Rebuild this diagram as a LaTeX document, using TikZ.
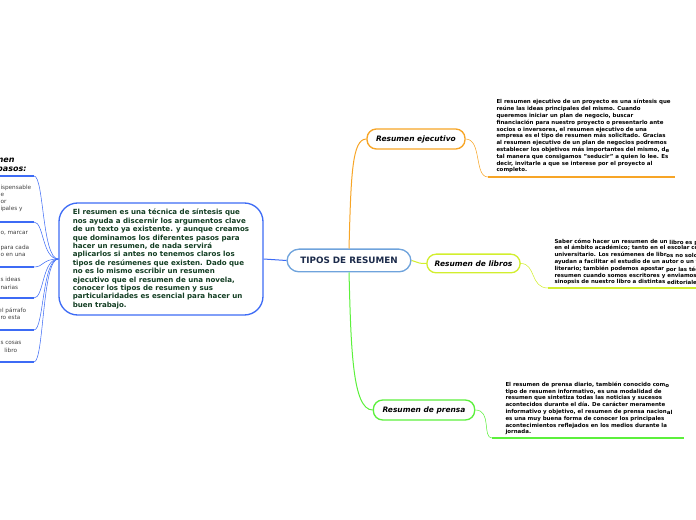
\documentclass[tikz,border=0pt]{standalone}
\usepackage{fontspec}
\setmainfont{DejaVu Sans}
\definecolor{cBlue}{HTML}{3D6BF5}
\definecolor{cNavy}{HTML}{1B2A4A}
\definecolor{cCentral}{HTML}{6FA3DC}
\definecolor{cText}{HTML}{123D22}
\definecolor{cOrange}{HTML}{F7A526}
\definecolor{cLime}{HTML}{D2EE2E}
\definecolor{cGreen}{HTML}{5CF03C}

\tikzset{every picture/.style={line width=0.75pt}}
\tikzset{
  topic/.style={draw, rounded corners=7pt, line width=1pt, fill=white, inner sep=0pt,
    font=\fontsize{5.6}{6.5}\selectfont\bfseries\itshape},
  note/.style={anchor=south west, inner sep=0pt, align=left,
    font=\fontsize{4.1}{5.1}\selectfont\bfseries},
  leftnote/.style={anchor=west, inner sep=0pt, text=black!75,
    font=\fontsize{4.3}{5.1}\selectfont},
  uline/.style={line width=1.6pt},
}

\begin{document}
\begin{tikzpicture}[x=0.75pt,y=0.75pt,yscale=-1]
\useasboundingbox (0,0) rectangle (696,520);

%Central topic
\node [draw=cCentral, rounded corners=9pt, line width=1pt, minimum width=93pt, minimum height=17pt,
  text=cNavy, font=\fontsize{6.6}{7}\selectfont\bfseries] (tipos) at (349,260.5) {TIPOS DE RESUMEN};

%Left text box
\node [draw=cBlue, rounded corners=14pt, line width=1pt, minimum width=153pt, minimum height=84pt,
  text=cText, align=left, font=\fontsize{5.3}{6.3}\selectfont\bfseries] (intro) at (161,259)
  {El resumen es una técnica de síntesis que\\
   nos ayuda a discernir los argumentos clave\\
   de un texto ya existente. y aunque creamos\\
   que dominamos los diferentes pasos para\\
   hacer un resumen, de nada servirá\\
   aplicarlos si antes no tenemos claros los\\
   tipos de resúmenes que existen. Dado que\\
   no es lo mismo escribir un resumen\\
   ejecutivo que el resumen de una novela,\\
   conocer los tipos de resumen y sus\\
   particularidades es esencial para hacer un\\
   buen trabajo.};
\draw [cBlue] (tipos.west) -- (intro.east);

%Topics on the right
\node [topic, draw=cOrange, minimum width=73.5pt, minimum height=15pt] (ejec) at (416,139) {Resumen ejecutivo};
\node [topic, draw=cLime, minimum width=70pt, minimum height=14pt] (libros) at (473.5,263.5) {Resumen de libros};
\node [topic, draw=cGreen, minimum width=76pt, minimum height=15pt] (prensa) at (424,410) {Resumen de prensa};

\draw [cOrange] (tipos.north) .. controls (351,175) and (352,139) .. (ejec.west);
\draw [cLime] (tipos.east) .. controls (420,263) and (418,263.5) .. (libros.west);
\draw [cGreen] (tipos.south) .. controls (351,345) and (352,410) .. (prensa.west);

%Notes
\coordinate (ejecA) at (488,177);
\coordinate (ejecB) at (675,177);
\coordinate (librosA) at (548,288);
\coordinate (librosB) at (696,288);
\coordinate (prensaA) at (492,438);
\coordinate (prensaB) at (684,438);

\draw [cOrange, line width=0.4pt] (ejec.east) .. controls (482,139) and (474,177) .. (ejecA);
\draw [cOrange, uline] (ejecA) -- (ejecB);
\draw [cLime, line width=0.4pt] (libros.east) .. controls (536,263.5) and (530,288) .. (librosA);
\draw [cLime, uline] (librosA) -- (librosB);
\draw [cGreen, line width=0.4pt] (prensa.east) .. controls (492,410) and (482,438) .. (prensaA);
\draw [cGreen, uline] (prensaA) -- (prensaB);

\node [note] (ejecTxt) at (496,173.5)
  {El resumen ejecutivo de un proyecto es una síntesis que\\
   reúne las ideas principales del mismo. Cuando\\
   queremos iniciar un plan de negocio, buscar\\
   financiación para nuestro proyecto o presentarlo ante\\
   socios o inversores, el resumen ejecutivo de una\\
   empresa es el tipo de resumen más solicitado. Gracias\\
   al resumen ejecutivo de un plan de negocios podremos\\
   establecer los objetivos más importantes del mismo, d\raisebox{-1pt}{e}\\
   tal manera que consigamos "seducir" a quien lo lee. Es\\
   decir, invitarle a que se interese por el proyecto al\\
   completo.};
\node [note] (librosTxt) at (554,285.5)
  {Saber cómo hacer un resumen de un \raisebox{-0.8pt}{libro es p}\\
   en el ámbito académico; tanto en el escolar co\\
   universitario. Los resúmenes de libr\raisebox{-0.8pt}{os no solo}\\
   ayudan a facilitar el estudio de un autor o un t\\
   literario; también podemos apostar \raisebox{-0.8pt}{por las téc}\\
   resumen cuando somos escritores y enviamos\\
   sinopsis de nuestro libro a distintas \raisebox{-0.8pt}{editoriales}};
\node [note] (prensaTxt) at (505,435.5)
  {El resumen de prensa diario, también conocido com\raisebox{-1pt}{o}\\
   tipo de resumen informativo, es una modalidad de\\
   resumen que sintetiza todas las noticias y sucesos\\
   acontecidos durante el día. De carácter meramente\\
   informativo y objetivo, el resumen de prensa nacion\raisebox{-1pt}{al}\\
   es una muy buena forma de conocer los principales\\
   acontecimientos reflejados en los medios durante la\\
   jornada.};

%Left side (cut by the page edge)
\node [anchor=east, inner sep=0pt, font=\fontsize{6}{7}\selectfont\bfseries\itshape] (pasosA) at (15,160) {men};
\node [anchor=east, inner sep=0pt, font=\fontsize{6}{7}\selectfont\bfseries\itshape] (pasosB) at (27,170) {pasos:};

\node [leftnote] (p1a) at (0,188) {ispensable};
\node [leftnote] (p1b) at (0,195) {e};
\node [leftnote] (p1c) at (0,202) {or};
\node [leftnote] (p1d) at (0,209) {ipales y};
\node [leftnote] (p2a) at (0,233) {o, marcar};
\node [leftnote] (p2b) at (0,248) {para cada};
\node [leftnote] (p2c) at (0,255) {o en una};
\node [leftnote] (p3a) at (0,279) {s ideas};
\node [leftnote] (p3b) at (0,287) {narias};
\node [leftnote] (p4a) at (-2,311) {el párrafo};
\node [leftnote] (p4b) at (0,318) {ro esta};
\node [leftnote] (p5a) at (0,343) {s cosas};
\node [leftnote] (p5b) at (4,350) {libro};

\foreach \y [count=\i] in {176,222,267,298,330,362} {
  \coordinate (lA\i) at (0,\y);
  \coordinate (lB\i) at (34,\y);
  \draw [cBlue, uline] (lA\i) -- (lB\i);
  \draw [cBlue, line width=0.4pt] (lB\i) .. controls (44,\y) and (42,259) .. (intro.west);
}

\end{tikzpicture}
\end{document}
